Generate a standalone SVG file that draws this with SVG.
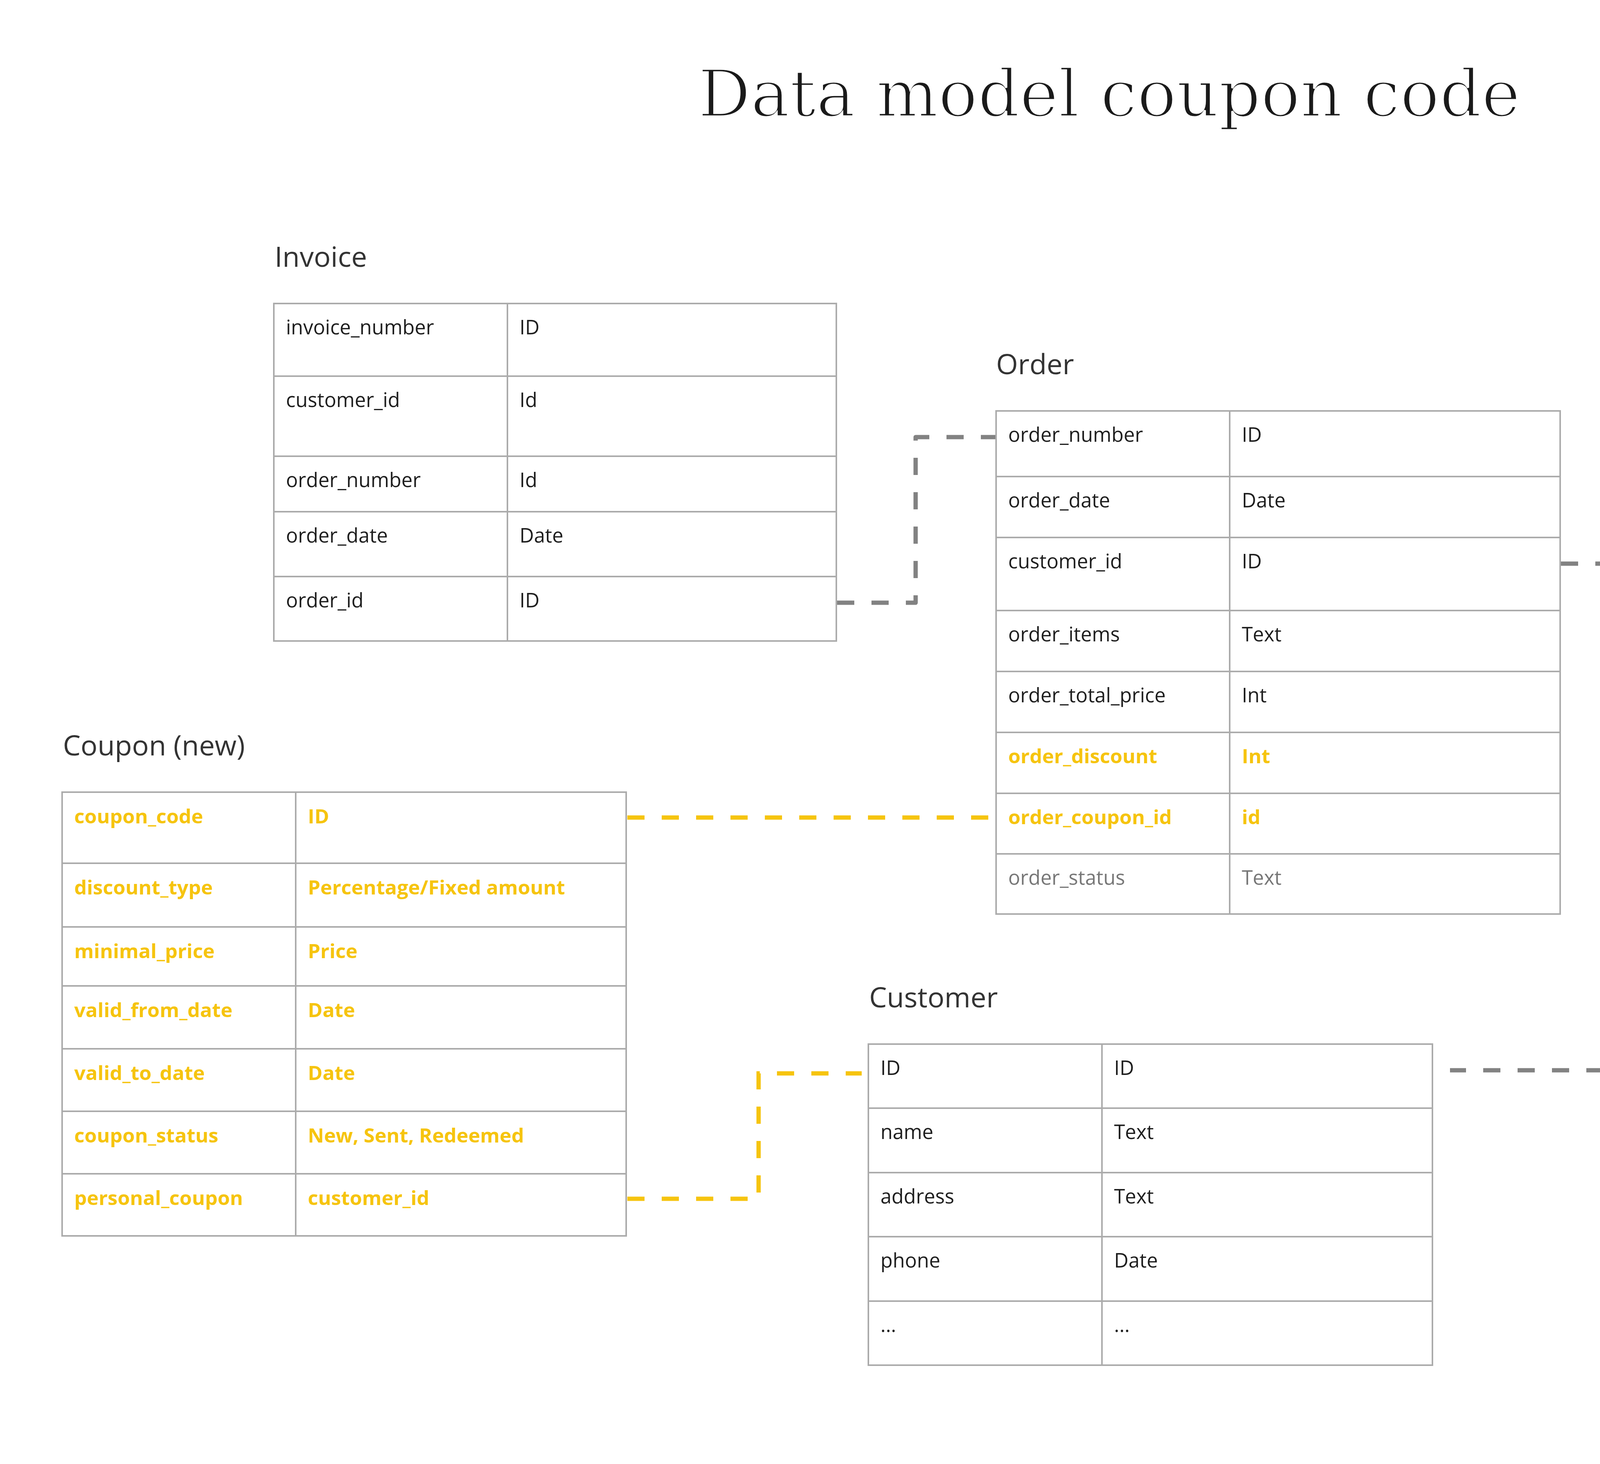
<svg xmlns="http://www.w3.org/2000/svg" width="4267" height="3748" viewBox="0 0 4267 3748">
<style>
.t{font-family:"Open Sans","Noto Sans",sans-serif;font-size:51px;fill:#1e1e1e}
.h{font-family:"Open Sans","Noto Sans",sans-serif;font-size:72px;fill:#333333}
.y{fill:#F6C40F;font-weight:700}
.g{fill:#777777}
.grid{fill:none;stroke:#ababab;stroke-width:4}
.cg{fill:none;stroke:#828282;stroke-width:11;stroke-dasharray:44 44;stroke-linejoin:round}
.cy{fill:none;stroke:#F6C40F;stroke-width:11;stroke-dasharray:44 44}
.title{font-family:"DejaVu Serif","Liberation Serif",serif;font-size:166px;fill:#1a1a1a;stroke:#ffffff;stroke-width:5}
</style>
<rect width="4267" height="3748" fill="#ffffff"/>
<g id="title">
<text class="title" x="1787" y="298" textLength="2105" lengthAdjust="spacingAndGlyphs">Data model coupon code</text>
</g>
<g id="connectors">
<path class="cg" d="M2143 1543 H2344 V1119 H2548"/>
<path class="cg" d="M3996 1443 H4106 V2740 H3712"/>
<path class="cy" d="M1606 2093 H2530"/>
<path class="cy" d="M1606 3069 H1942 V2748 H2206"/>
</g>
<g id="invoice">
<text class="h" x="703" y="683">Invoice</text>
<path class="grid" d="M701 777 H2141 V1641 H701 Z M1299 777 V1641 M701 963 H2141 M701 1168 H2141 M701 1310 H2141 M701 1476 H2141"/>
<text class="t" x="732" y="856">invoice_number</text><text class="t" x="1330" y="856">ID</text>
<text class="t" x="732" y="1042">customer_id</text><text class="t" x="1330" y="1042">Id</text>
<text class="t" x="732" y="1247">order_number</text><text class="t" x="1330" y="1247">Id</text>
<text class="t" x="732" y="1389">order_date</text><text class="t" x="1330" y="1389">Date</text>
<text class="t" x="732" y="1555">order_id</text><text class="t" x="1330" y="1555">ID</text>
</g>
<g id="order">
<text class="h" x="2550" y="958">Order</text>
<path class="grid" d="M2550 1052 H3994 V2340 H2550 Z M3148 1052 V2340 M2550 1220 H3994 M2550 1376 H3994 M2550 1563 H3994 M2550 1719 H3994 M2550 1875 H3994 M2550 2031 H3994 M2550 2186 H3994"/>
<text class="t" x="2581" y="1131">order_number</text><text class="t" x="3179" y="1131">ID</text>
<text class="t" x="2581" y="1299">order_date</text><text class="t" x="3179" y="1299">Date</text>
<text class="t" x="2581" y="1455">customer_id</text><text class="t" x="3179" y="1455">ID</text>
<text class="t" x="2581" y="1642">order_items</text><text class="t" x="3179" y="1642">Text</text>
<text class="t" x="2581" y="1798">order_total_price</text><text class="t" x="3179" y="1798">Int</text>
<text class="t y" x="2581" y="1954">order_discount</text><text class="t y" x="3179" y="1954">Int</text>
<text class="t y" x="2581" y="2110">order_coupon_id</text><text class="t y" x="3179" y="2110">id</text>
<text class="t g" x="2581" y="2265">order_status</text><text class="t g" x="3179" y="2265">Text</text>
</g>
<g id="coupon">
<text class="h" x="161" y="1934">Coupon (new)</text>
<path class="grid" d="M159 2028 H1603 V3164 H159 Z M757 2028 V3164 M159 2210 H1603 M159 2373 H1603 M159 2524 H1603 M159 2685 H1603 M159 2845 H1603 M159 3005 H1603"/>
<text class="t y" x="190" y="2108">coupon_code</text><text class="t y" x="788" y="2108">ID</text>
<text class="t y" x="190" y="2290">discount_type</text><text class="t y" x="788" y="2290">Percentage/Fixed amount</text>
<text class="t y" x="190" y="2453">minimal_price</text><text class="t y" x="788" y="2453">Price</text>
<text class="t y" x="190" y="2604">valid_from_date</text><text class="t y" x="788" y="2604">Date</text>
<text class="t y" x="190" y="2765">valid_to_date</text><text class="t y" x="788" y="2765">Date</text>
<text class="t y" x="190" y="2925">coupon_status</text><text class="t y" x="788" y="2925">New, Sent, Redeemed</text>
<text class="t y" x="190" y="3085">personal_coupon</text><text class="t y" x="788" y="3085">customer_id</text>
</g>
<g id="customer">
<text class="h" x="2225" y="2579">Customer</text>
<path class="grid" d="M2223 2673 H3667 V3495 H2223 Z M2821 2673 V3495 M2223 2837 H3667 M2223 3002 H3667 M2223 3166 H3667 M2223 3331 H3667"/>
<text class="t" x="2254" y="2752">ID</text><text class="t" x="2852" y="2752">ID</text>
<text class="t" x="2254" y="2916">name</text><text class="t" x="2852" y="2916">Text</text>
<text class="t" x="2254" y="3081">address</text><text class="t" x="2852" y="3081">Text</text>
<text class="t" x="2254" y="3245">phone</text><text class="t" x="2852" y="3245">Date</text>
<text class="t" x="2254" y="3410">...</text><text class="t" x="2852" y="3410">...</text>
</g>
</svg>
